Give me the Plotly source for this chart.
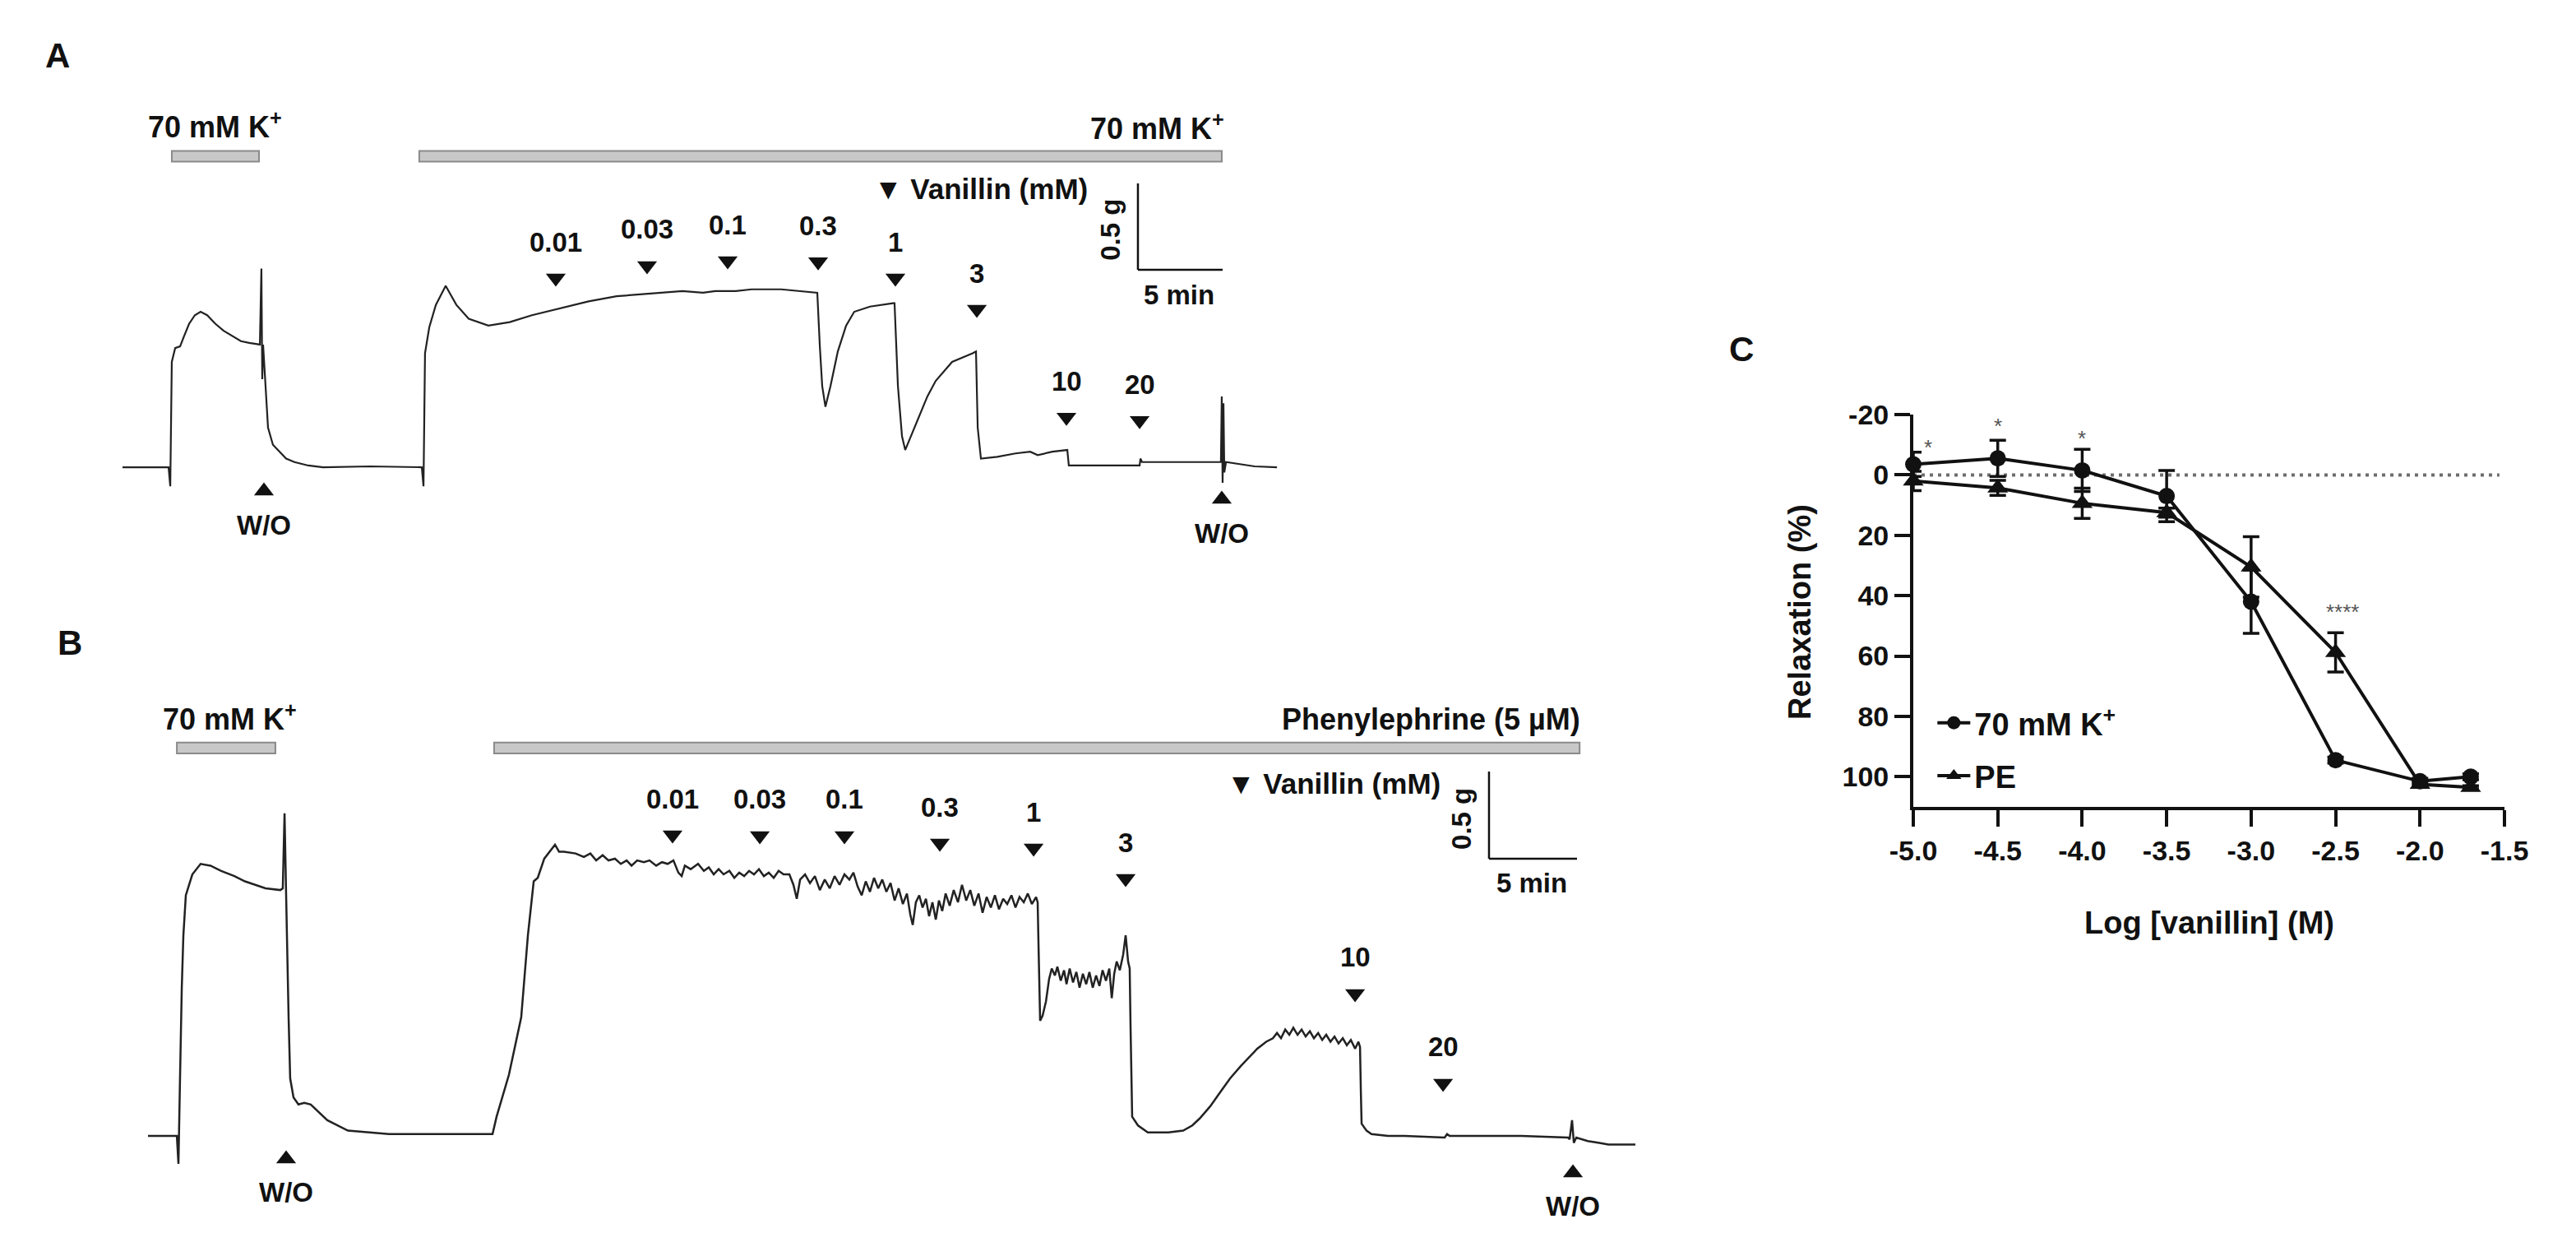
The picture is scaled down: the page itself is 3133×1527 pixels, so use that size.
import plotly.graph_objects as go

FONT = "Liberation Sans, Arial, Helvetica, sans-serif"
INK = "#111111"

# ---------------------------------------------------------------------------
# Panel A - isometric force, 70 mM K+ pre-contraction (time: min, force: g)
a_trace = [
    (0, 0), (2.72, 0), (2.82, -0.11), (2.91, 0.61), (3.11, 0.69), (3.40, 0.70),
    (3.64, 0.76), (3.93, 0.83), (4.27, 0.88), (4.61, 0.90), (5.00, 0.88),
    (5.49, 0.83), (5.97, 0.79), (6.46, 0.76), (6.99, 0.73), (7.48, 0.72),
    (8.11, 0.71), (8.20, 1.15), (8.25, 0.51), (8.30, 0.71), (8.40, 0.56),
    (8.59, 0.23), (8.88, 0.13), (9.17, 0.10), (9.66, 0.05), (10.15, 0.03),
    (10.97, 0.01), (11.84, 0.0), (14.61, 0.005), (17.67, 0), (17.77, -0.11),
    (17.86, 0.66), (18.11, 0.81), (18.50, 0.94), (19.08, 1.05), (19.71, 0.94),
    (20.44, 0.86), (21.60, 0.82), (22.86, 0.84), (24.17, 0.88), (25.78, 0.92),
    (27.52, 0.96), (29.17, 0.99), (30.63, 1.00), (33.06, 1.02), (34.27, 1.01),
    (35.00, 1.02), (36.21, 1.02), (37.14, 1.03), (38.88, 1.03), (40.78, 1.01),
    (41.02, 1.01), (41.17, 0.70), (41.31, 0.47), (41.50, 0.35), (41.80, 0.47),
    (42.23, 0.67), (42.72, 0.82), (43.20, 0.90), (44.13, 0.93), (45.49, 0.95),
    (45.58, 0.95), (45.78, 0.47), (46.02, 0.18), (46.21, 0.10), (46.55, 0.18),
    (47.04, 0.29), (47.52, 0.41), (48.01, 0.50), (48.98, 0.61), (50.19, 0.66),
    (50.39, 0.67), (50.49, 0.23), (50.68, 0.05), (51.65, 0.06), (52.72, 0.08),
    (53.59, 0.09), (54.03, 0.07), (54.90, 0.09), (55.63, 0.10), (55.78, 0.10),
    (55.87, 0.01), (60.05, 0.01), (60.10, 0.05), (60.19, 0.03), (62.18, 0.03),
    (64.85, 0.03), (64.90, 0.41), (64.95, -0.09), (65.00, 0.37), (65.05, -0.03),
    (65.15, 0.03), (65.87, 0.02), (66.84, 0.005), (68.16, 0),
]
a_kcl_bars = [(2.91, 8.06), (17.52, 64.90)]          # drug application periods
a_doses = ["0.01", "0.03", "0.1", "0.3", "1", "3", "10", "20"]
a_dose_time = [25.58, 30.97, 35.73, 41.07, 45.63, 50.44, 55.73, 60.05]
a_dose_mark = [1.095, 1.167, 1.195, 1.19, 1.095, 0.914, 0.29, 0.271]
a_wash_time = [8.35, 64.90]
a_wash_mark = [-0.138, -0.186]

# ---------------------------------------------------------------------------
# Panel B - phenylephrine (5 uM) pre-contraction (time: min, force: g)
b_trace = [
    (0, 0), (1.64, 0), (1.73, -0.16), (1.78, 0.19), (1.82, 0.33), (1.92, 0.85),
    (2.01, 1.15), (2.15, 1.38), (2.52, 1.50), (2.99, 1.56), (3.55, 1.55),
    (4.16, 1.52), (4.91, 1.49), (5.51, 1.46), (6.68, 1.42), (7.52, 1.41),
    (7.66, 1.42), (7.76, 1.85), (7.80, 1.51), (7.85, 1.38), (7.99, 0.68),
    (8.08, 0.33), (8.27, 0.22), (8.55, 0.18), (8.88, 0.19), (9.25, 0.18),
    (10.19, 0.09), (11.36, 0.03), (13.69, 0.01), (16.82, 0.01), (19.58, 0.01),
    (19.81, 0.11), (20.51, 0.35), (21.21, 0.68), (21.59, 1.15), (21.92, 1.46),
    (22.15, 1.48), (22.52, 1.59), (23.13, 1.67), (23.36, 1.63), (23.64, 1.63),
    (24.30, 1.62), (24.77, 1.60), (25.14, 1.62), (25.47, 1.58), (25.84, 1.61),
    (26.17, 1.58), (26.54, 1.59), (26.87, 1.56), (27.20, 1.58), (27.48, 1.55),
    (27.80, 1.58), (28.18, 1.57), (28.50, 1.58), (28.88, 1.55), (29.21, 1.57),
    (29.53, 1.56), (29.86, 1.58), (30.14, 1.51), (30.33, 1.49), (30.51, 1.55),
    (30.84, 1.53), (31.26, 1.56), (31.59, 1.52), (31.87, 1.54), (32.15, 1.50),
    (32.43, 1.53), (32.71, 1.50), (33.04, 1.52), (33.32, 1.48), (33.60, 1.51),
    (33.88, 1.49), (34.16, 1.52), (34.44, 1.50), (34.72, 1.53), (35.00, 1.49),
    (35.28, 1.51), (35.56, 1.48), (35.84, 1.52), (36.12, 1.50), (36.45, 1.50),
    (36.68, 1.44), (36.87, 1.36), (37.06, 1.47), (37.34, 1.50), (37.62, 1.45),
    (37.90, 1.49), (38.18, 1.41), (38.46, 1.47), (38.74, 1.42), (39.02, 1.49),
    (39.30, 1.44), (39.58, 1.50), (39.86, 1.47), (40.09, 1.51), (40.33, 1.43),
    (40.56, 1.38), (40.79, 1.46), (41.03, 1.40), (41.26, 1.48), (41.50, 1.42),
    (41.73, 1.47), (41.96, 1.40), (42.20, 1.45), (42.43, 1.35), (42.66, 1.42),
    (42.90, 1.33), (43.13, 1.39), (43.32, 1.27), (43.46, 1.21), (43.64, 1.34),
    (43.83, 1.38), (44.02, 1.31), (44.21, 1.36), (44.39, 1.26), (44.58, 1.34),
    (44.77, 1.24), (44.95, 1.35), (45.14, 1.29), (45.33, 1.39), (45.56, 1.32),
    (45.79, 1.41), (46.03, 1.34), (46.26, 1.44), (46.50, 1.35), (46.73, 1.41),
    (46.96, 1.32), (47.20, 1.39), (47.43, 1.28), (47.66, 1.37), (47.90, 1.31),
    (48.13, 1.38), (48.36, 1.30), (48.60, 1.36), (48.83, 1.33), (49.07, 1.38),
    (49.30, 1.31), (49.53, 1.37), (49.77, 1.34), (50.00, 1.39), (50.23, 1.33),
    (50.47, 1.37), (50.56, 1.34), (50.61, 1.09), (50.70, 0.66), (50.84, 0.69),
    (51.03, 0.77), (51.21, 0.90), (51.36, 0.96), (51.54, 0.92), (51.68, 0.97),
    (51.87, 0.89), (52.06, 0.95), (52.20, 0.87), (52.38, 0.96), (52.57, 0.88),
    (52.76, 0.94), (52.94, 0.85), (53.13, 0.93), (53.32, 0.87), (53.50, 0.94),
    (53.69, 0.85), (53.88, 0.92), (54.07, 0.86), (54.25, 0.95), (54.44, 0.89),
    (54.63, 0.96), (54.77, 0.79), (54.91, 0.93), (55.05, 1.00), (55.23, 0.95),
    (55.42, 1.04), (55.56, 1.15), (55.70, 1.00), (55.79, 0.96), (55.84, 0.62),
    (55.93, 0.11), (56.26, 0.06), (56.82, 0.02), (57.43, 0.02), (57.99, 0.02),
    (58.83, 0.03), (59.35, 0.06), (59.77, 0.10), (60.37, 0.17), (60.93, 0.25),
    (61.50, 0.33), (62.10, 0.40), (62.57, 0.45), (63.04, 0.50), (63.55, 0.54),
    (63.93, 0.56), (64.16, 0.59), (64.39, 0.56), (64.63, 0.61), (64.86, 0.58),
    (65.09, 0.62), (65.33, 0.58), (65.56, 0.61), (65.79, 0.57), (66.03, 0.60),
    (66.26, 0.56), (66.50, 0.59), (66.73, 0.55), (66.96, 0.58), (67.20, 0.54),
    (67.43, 0.57), (67.66, 0.53), (67.90, 0.56), (68.13, 0.52), (68.36, 0.55),
    (68.60, 0.50), (68.79, 0.54), (68.88, 0.51), (68.93, 0.24), (68.97, 0.07),
    (69.25, 0.03), (69.53, 0.01), (70.47, 0.0), (71.40, 0.0), (73.69, -0.01),
    (73.83, 0.01), (73.97, 0.0), (76.03, 0.0), (78.04, 0.0), (80.70, -0.01),
    (80.79, -0.02), (80.93, 0.09), (81.03, -0.04), (81.17, -0.01), (81.82, -0.03),
    (82.48, -0.04), (83.00, -0.05), (83.88, -0.05), (84.53, -0.05),
]
b_drug_bars = [(1.64, 7.24), (19.67, 81.36)]
b_doses = ["0.01", "0.03", "0.1", "0.3", "1", "3", "10", "20"]
b_dose_time = [29.81, 34.77, 39.58, 45.0, 50.33, 55.56, 68.60, 73.60]
b_dose_mark = [1.726, 1.722, 1.722, 1.679, 1.651, 1.476, 0.816, 0.302]
b_wash_time = [7.85, 80.98]
b_wash_mark = [-0.132, -0.212]

# ---------------------------------------------------------------------------
# Panel C - concentration-response (relaxation %, mean +/- SEM)
log_vanillin = [-5.0, -4.5, -4.0, -3.5, -3.0, -2.5, -2.0, -1.7]
k_relax = [-3.5, -5.5, -1.5, 7.0, 42.0, 94.5, 101.5, 100.0]
k_sem = [4.0, 6.0, 7.0, 8.5, 10.5, 1.0, 1.0, 1.0]
pe_relax = [2.0, 4.3, 9.4, 12.5, 30.5, 58.8, 102.5, 103.5]
pe_sem = [3.2, 2.5, 5.0, 1.5, 10.0, 6.5, 1.0, 0.5]
sig_x = [-4.91, -4.5, -4.0, -2.46]
sig_y = [-11, -18, -14, 43.6]
sig_txt = ["*", "*", "*", "****"]
x_ticks = [-5.0, -4.5, -4.0, -3.5, -3.0, -2.5, -2.0, -1.5]
y_ticks = [-20, 0, 20, 40, 60, 80, 100]


def txt(x, y, s, ref, size=33, anchor="center", shift=0, angle=0, bold=True, color=INK):
    return dict(x=x, y=y, xref="x" + ref, yref="y" + ref, text=s, showarrow=False,
                xanchor=anchor, yanchor="middle", yshift=shift, textangle=angle,
                font=dict(family=FONT, size=size, color=color,
                          weight="bold" if bold else "normal"))


def paper_txt(x, y, s, size, angle=0):
    return dict(x=x, y=y, xref="paper", yref="paper", text=s, showarrow=False,
                xanchor="center", yanchor="middle", textangle=angle,
                font=dict(family=FONT, size=size, color=INK, weight="bold"))


fig = go.Figure()
ann, shp = [], []


def trace_panel(ref, trace, bars, doses, dose_t, dose_g, wash_t, wash_g,
                bar_g, top_labels, vanillin_at, scale_at, lw):
    t, g = zip(*trace)
    xa = "x" + ref
    ya = "y" + ref
    fig.add_trace(go.Scatter(x=t, y=g, mode="lines", xaxis=xa, yaxis=ya,
                             line=dict(color="#222222", width=lw), showlegend=False,
                             hoverinfo="skip"))
    # drug application bars
    for t0, t1 in bars:
        shp.append(dict(type="rect", xref=xa, yref=ya, x0=t0, x1=t1,
                        y0=bar_g - 0.031, y1=bar_g + 0.031,
                        fillcolor="#c8c8c8", line=dict(color="#8a8a8a", width=2)))
    for (x, y, s, anchor) in top_labels:
        ann.append(txt(x, y, s, ref, size=36, anchor=anchor))
    # vanillin additions
    fig.add_trace(go.Scatter(x=dose_t, y=dose_g, mode="markers", xaxis=xa, yaxis=ya,
                             marker=dict(symbol="triangle-down", size=21, color=INK),
                             showlegend=False, hoverinfo="skip"))
    for d, x, y in zip(doses, dose_t, dose_g):
        ann.append(txt(x, y, d, ref, shift=44))
    # wash-outs
    fig.add_trace(go.Scatter(x=wash_t, y=wash_g, mode="markers", xaxis=xa, yaxis=ya,
                             marker=dict(symbol="triangle-up", size=21, color=INK),
                             showlegend=False, hoverinfo="skip"))
    for x, y in zip(wash_t, wash_g):
        ann.append(txt(x, y, "W/O", ref, shift=-41))
    vx, vy = vanillin_at
    ann.append(txt(vx, vy, "\u25BC Vanillin (mM)", ref, size=35, anchor="left"))
    # 0.5 g / 5 min scale bar
    sx, sy = scale_at
    shp.append(dict(type="line", xref=xa, yref=ya, x0=sx, x1=sx, y0=sy, y1=sy + 0.5,
                    line=dict(color=INK, width=2.5)))
    shp.append(dict(type="line", xref=xa, yref=ya, x0=sx, x1=sx + 5, y0=sy, y1=sy,
                    line=dict(color=INK, width=2.5)))
    ann.append(txt(sx - 1.6, sy + 0.23, "0.5 g", ref, angle=-90))
    ann.append(txt(sx + 2.45, sy, "5 min", ref, shift=-30))


trace_panel("", a_trace, a_kcl_bars, a_doses, a_dose_time, a_dose_mark,
            a_wash_time, a_wash_mark, 1.80,
            [(5.48, 1.98, "70 mM K<sup>+</sup>", "center"),
             (65.15, 1.97, "70 mM K<sup>+</sup>", "right")],
            (44.27, 1.61), (59.95, 1.143), 2.2)
trace_panel("2", b_trace, b_drug_bars, b_doses, b_dose_time, b_dose_mark,
            b_wash_time, b_wash_mark, 2.225,
            [(4.67, 2.40, "70 mM K<sup>+</sup>", "center"),
             (81.50, 2.39, "Phenylephrine (5 \u00b5M)", "right")],
            (61.21, 2.02), (76.21, 1.59), 2.5)

# Panel C
fig.add_trace(go.Scatter(
    x=log_vanillin, y=k_relax, xaxis="x3", yaxis="y3", mode="lines+markers",
    name="70 mM K<sup>+</sup>", legendgroup="k", cliponaxis=False,
    line=dict(color=INK, width=4), marker=dict(symbol="circle", size=20, color=INK),
    error_y=dict(type="data", array=k_sem, color=INK, thickness=3.5, width=10)))
fig.add_trace(go.Scatter(
    x=log_vanillin, y=pe_relax, xaxis="x3", yaxis="y3", mode="lines+markers",
    name="PE", legendgroup="pe", cliponaxis=False,
    line=dict(color=INK, width=4), marker=dict(symbol="triangle-up", size=22, color=INK),
    error_y=dict(type="data", array=pe_sem, color=INK, thickness=3.5, width=10)))
shp.append(dict(type="line", xref="x3", yref="y3", x0=-5.0, x1=-1.53, y0=0, y1=0,
                line=dict(color="#6e6e6e", width=4, dash="4px,6px"), layer="below"))
for x, y, s in zip(sig_x, sig_y, sig_txt):
    ann.append(txt(x, y, s, "3", size=26, bold=False, color="#555555", shift=-7))

ann += [
    paper_txt(0.0224, 0.9561, "A", 42),
    paper_txt(0.0271, 0.4879, "B", 42),
    paper_txt(0.6760, 0.7223, "C", 42),
    paper_txt(0.6987, 0.5128, "Relaxation (%)", 38, angle=-90),
    paper_txt(0.8576, 0.2652, "Log [vanillin] (M)", 38),
]

hidden = dict(visible=False, showgrid=False, zeroline=False, fixedrange=True)
tickfont = dict(family=FONT, size=34, color=INK, weight="bold")
fig.update_layout(
    width=3133, height=1527,
    margin=dict(l=0, r=0, t=0, b=0, pad=0, autoexpand=False),
    paper_bgcolor="white", plot_bgcolor="rgba(0,0,0,0)",
    xaxis=dict(domain=[0, 0.5], range=[-7.233, 68.81], **hidden),
    yaxis=dict(domain=[0.5023, 1], range=[-0.914, 2.705], **hidden),
    xaxis2=dict(domain=[0, 0.66], range=[-8.411, 88.21], **hidden),
    yaxis2=dict(domain=[0, 0.51539], range=[-0.689, 3.024], **hidden),
    xaxis3=dict(domain=[0.74274, 0.97223], range=[-5.0, -1.5], anchor="y3",
                showline=True, linewidth=4, linecolor=INK, showgrid=False, zeroline=False,
                ticks="outside", ticklen=20, tickwidth=3.5, tickcolor=INK,
                tickvals=x_ticks, ticktext=[f"{v:.1f}" for v in x_ticks],
                tickfont=tickfont, fixedrange=True),
    yaxis3=dict(domain=[0.35756, 0.66994], range=[110, -20], anchor="x3",
                showline=True, linewidth=4, linecolor=INK, showgrid=False, zeroline=False,
                ticks="outside", ticklen=19, tickwidth=3.5, tickcolor=INK,
                tickvals=y_ticks, ticktext=[str(v) for v in y_ticks],
                tickfont=tickfont, fixedrange=True),
    showlegend=True,
    legend=dict(x=0.7505, y=0.445, xanchor="left", yanchor="top",
                bgcolor="rgba(0,0,0,0)", traceorder="grouped", tracegroupgap=12,
                font=dict(family=FONT, size=38, color=INK, weight="bold"),
                itemwidth=40),
    annotations=ann, shapes=shp,
)

# the page's default body margin would push the 3133x1527 figure off the window
fig.write_html("out.html", config={"displayModeBar": False},
               post_script="document.body.style.margin='0';")
